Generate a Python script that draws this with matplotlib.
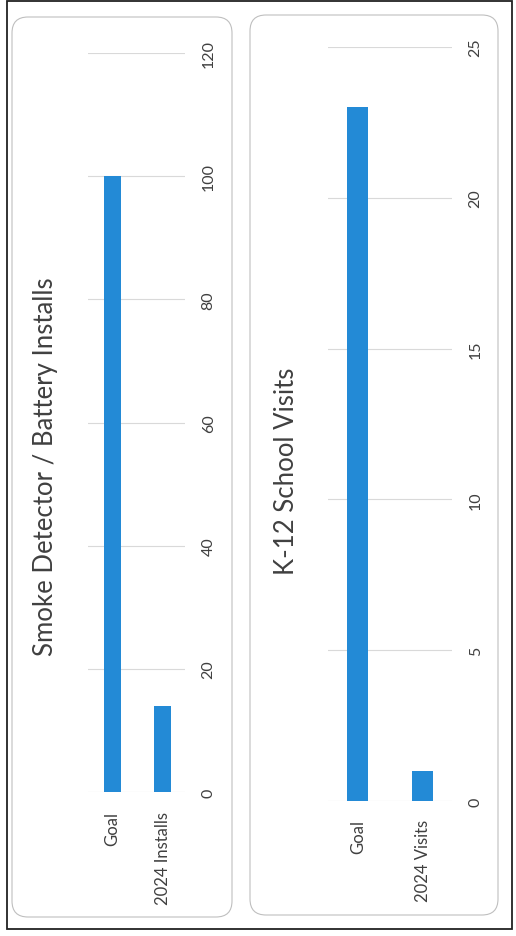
import matplotlib
matplotlib.use("Agg")
import matplotlib.pyplot as plt
from matplotlib.patches import FancyBboxPatch, Rectangle

plt.rcParams['font.family'] = ['Lato', 'DejaVu Sans']

# Data
smoke_title = "Smoke Detector / Battery Installs"
smoke_categories = ["Goal", "2024 Installs"]
smoke_values = [100, 14]
smoke_ticks = [0, 20, 40, 60, 80, 100, 120]

school_title = "K-12 School Visits"
school_categories = ["Goal", "2024 Visits"]
school_values = [23, 1]
school_ticks = [0, 5, 10, 15, 20, 25]

W, H = 516, 937
fig = plt.figure(figsize=(W / 100, H / 100), dpi=100)
fig.patch.set_facecolor('white')

BAR = '#238AD6'
TXT = '#404040'
GRID = '#D9D9D9'


def px_axes(x0, y0, x1, y1):
    return fig.add_axes([x0 / W, 1 - y1 / H, (x1 - x0) / W, (y1 - y0) / H])


def draw_box(x0, y0, x1, y1):
    r = 16
    p = FancyBboxPatch((x0 / W, 1 - y1 / H), (x1 - x0) / W, (y1 - y0) / H,
                       boxstyle=f"round,pad=0,rounding_size={r / W}",
                       transform=fig.transFigure, fill=False,
                       edgecolor='#BFBFBF', linewidth=0.8,
                       mutation_aspect=W / H)
    fig.patches.append(p)


# outer frame
fig.patches.append(Rectangle((7 / W, 1 - 930 / H), (512 - 7) / W, (930 - 2) / H,
                             transform=fig.transFigure, fill=False,
                             edgecolor='#222222', linewidth=1.3))
draw_box(12, 18, 232, 918)
draw_box(250, 16, 498, 916)


def make_chart(ax, cats, vals, ticks, width, xlim, tick_pad, cat_pad):
    x = list(range(len(cats)))
    ax.bar(x, vals, width=width, color=BAR, zorder=3)
    ax.set_xlim(*xlim)
    ax.set_ylim(ticks[0], ticks[-1])
    ax.set_yticks(ticks)
    ax.set_xticks(x)
    ax.set_xticklabels(cats, rotation=90, color=TXT, fontsize=12)
    for s in ax.spines.values():
        s.set_visible(False)
    ax.yaxis.tick_right()
    ax.tick_params(axis='y', length=0, pad=tick_pad, labelsize=11.5,
                   labelcolor=TXT, labelrotation=90)
    ax.tick_params(axis='x', length=0, pad=cat_pad)
    for lab in ax.get_yticklabels():
        lab.set_va('center')
        lab.set_ha('left')
    ax.grid(axis='y', color=GRID, linewidth=0.8, zorder=0)
    ax.set_facecolor('none')


ax1 = px_axes(88, 54, 185, 793)
make_chart(ax1, smoke_categories, smoke_values, smoke_ticks, 0.34, (-0.48, 1.44), 12, 14)
fig.text(46 / W, 1 - 467 / H, smoke_title, rotation=90, ha='center', va='center',
         fontsize=18.5, color=TXT)

ax2 = px_axes(328, 48, 452, 802)
make_chart(ax2, school_categories, school_values, school_ticks, 0.32, (-0.46, 1.45), 12, 13)
fig.text(287 / W, 1 - 471 / H, school_title, rotation=90, ha='center', va='center',
         fontsize=18.5, color=TXT)

fig.savefig("out.png", dpi=100)
